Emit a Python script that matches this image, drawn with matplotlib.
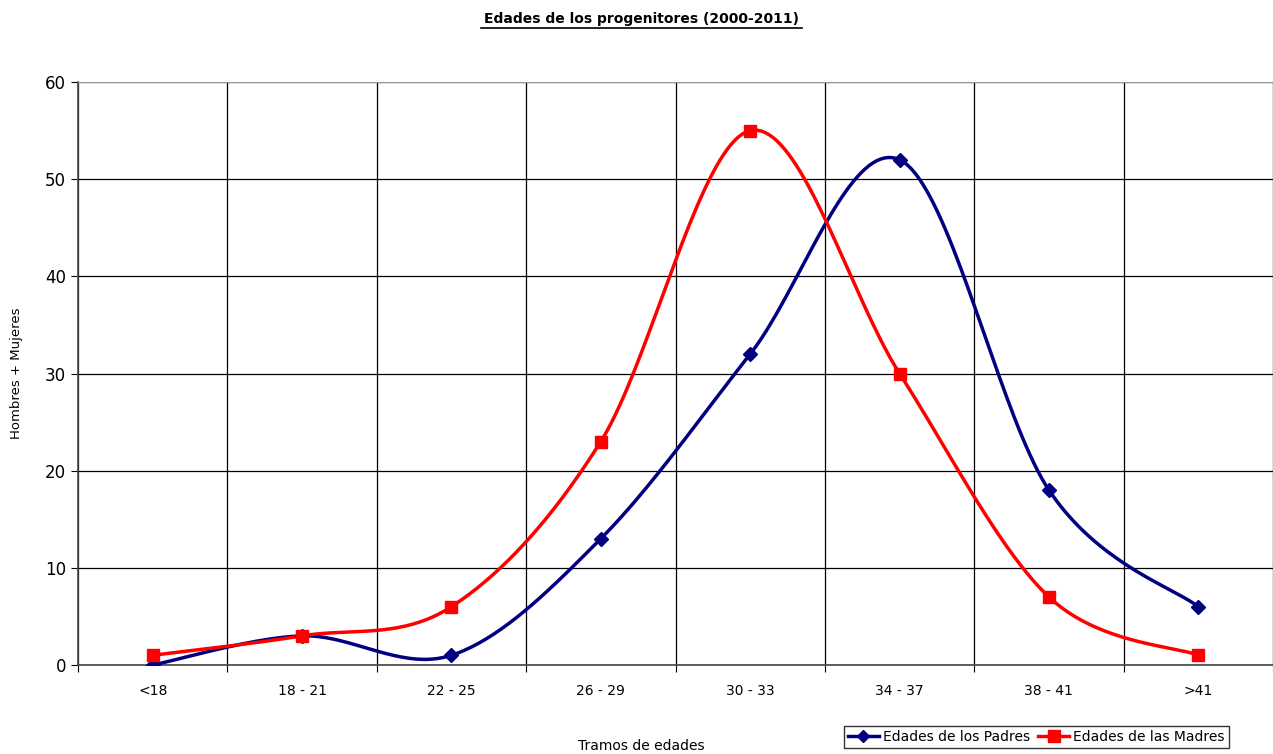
import numpy as np
from matplotlib import pyplot as plt

categorias = ["<18", "18 - 21", "22 - 25", "26 - 29", "30 - 33", "34 - 37", "38 - 41", ">41"]
padres = [0, 3, 1, 13, 32, 52, 18, 6]
madres = [1, 3, 6, 23, 55, 30, 7, 1]


def suavizar(x, y, n=40):
    # curva tipo Catmull-Rom (como la linea suavizada de Excel)
    x = np.asarray(x, float)
    y = np.asarray(y, float)
    px = np.concatenate([[x[0]], x, [x[-1]]])
    py = np.concatenate([[y[0]], y, [y[-1]]])
    xs, ys = [], []
    t = np.linspace(0, 1, n)
    for i in range(1, len(px) - 2):
        p0, p1, p2, p3 = [np.array([px[k], py[k]]) for k in (i - 1, i, i + 1, i + 2)]
        c1 = p1 + (p2 - p0) / 6
        c2 = p2 - (p3 - p1) / 6
        b = ((1 - t) ** 3)[:, None] * p1 + (3 * (1 - t) ** 2 * t)[:, None] * c1 \
            + (3 * (1 - t) * t ** 2)[:, None] * c2 + (t ** 3)[:, None] * p2
        xs.append(b[:, 0])
        ys.append(b[:, 1])
    return np.concatenate(xs), np.concatenate(ys)


W, H = 1273, 754
fig = plt.figure(figsize=(W / 100, H / 100), dpi=100)
ax = fig.add_axes([78 / W, 1 - 665 / H, (W - 78) / W, (665 - 82) / H])

x = np.arange(len(categorias))
azul = "#000080"
rojo = "#ff0000"

xs, ys = suavizar(x, padres)
ax.plot(xs, ys, color=azul, lw=2.5, zorder=3)
ax.plot(x, padres, ls="none", marker="D", ms=7, color=azul, zorder=4)
xs, ys = suavizar(x, madres)
ax.plot(xs, ys, color=rojo, lw=2.5, zorder=3)
ax.plot(x, madres, ls="none", marker="s", ms=9, color=rojo, zorder=4)

ax.set_xlim(-0.5, len(categorias) - 0.5)
ax.set_ylim(0, 60)
ax.set_yticks(range(0, 61, 10))
ax.set_xticks(np.arange(len(categorias) + 1) - 0.5)
ax.set_xticklabels([])
ax.set_xticks(x, minor=True)
ax.set_xticklabels(categorias, minor=True, fontsize=10)
ax.tick_params(axis="x", which="minor", length=0, pad=14)
ax.tick_params(axis="x", which="major", length=5, direction="out")
ax.tick_params(axis="y", length=5, direction="out", labelsize=12)
ax.grid(True, which="major", color="black", lw=0.9)
for s in ["top", "right"]:
    ax.spines[s].set_color("#999999")
for s in ["left", "bottom"]:
    ax.spines[s].set_color("#444444")
    ax.spines[s].set_linewidth(1.2)

fig.text(17 / W, 1 - 373 / H, "Hombres + Mujeres", rotation=90,
         ha="center", va="center", fontsize=9.5)
fig.text(641 / W, 1 - 746 / H, "Tramos de edades", ha="center", va="center", fontsize=10)
fig.text(641 / W, 1 - 19 / H, "Edades de los progenitores (2000-2011)",
         ha="center", va="center", fontsize=10, fontweight="bold")
fig.add_artist(plt.Line2D([481 / W, 802 / W], [1 - 28 / H] * 2, color="black", lw=1.2))

h1 = plt.Line2D([], [], color=azul, lw=2.5, marker="D", ms=6)
h2 = plt.Line2D([], [], color=rojo, lw=2.5, marker="s", ms=8)
leg = fig.legend([h1, h2], ["Edades de los Padres", "Edades de las Madres"],
                 loc="upper left", bbox_to_anchor=(844 / W, 1 - 726 / H),
                 ncol=2, fontsize=10, frameon=True, fancybox=False,
                 handlelength=2.2, handletextpad=0.3, columnspacing=0.6,
                 borderpad=0.3, borderaxespad=0)
leg.get_frame().set_edgecolor("black")
leg.get_frame().set_linewidth(1)

fig.savefig("out.png", dpi=100)
